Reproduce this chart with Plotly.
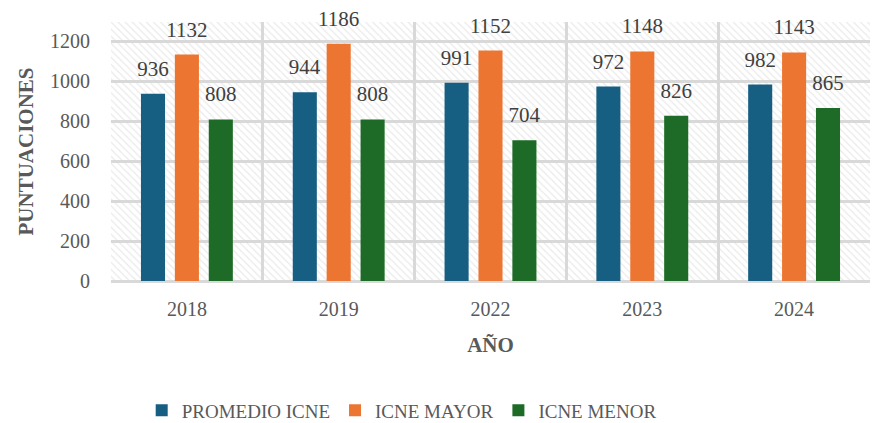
import plotly.graph_objects as go

years = ["2018", "2019", "2022", "2023", "2024"]
promedio = [936, 944, 991, 972, 982]
mayor = [1132, 1186, 1152, 1148, 1143]
menor = [808, 808, 704, 826, 865]
series_names = ["PROMEDIO ICNE", "ICNE MAYOR", "ICNE MENOR"]
colors = ["#175E83", "#ED7532", "#1D6B26"]
y_ticks = [0, 200, 400, 600, 800, 1000, 1200]

FONT = "Liberation Serif, Times New Roman, serif"
fig = go.Figure()

# hatched background for the plot area
fig.add_trace(go.Bar(
    x=[0.5], y=[1295], width=[1], xaxis="x", yaxis="y",
    marker=dict(color="rgba(0,0,0,0)", line=dict(width=0),
                pattern=dict(shape="\\", fgcolor="#d6d6d6", size=5, solidity=0.25,
                             fillmode="overlay")),
    showlegend=False, hoverinfo="skip"))

for name, vals, c in zip(series_names, [promedio, mayor, menor], colors):
    fig.add_trace(go.Bar(
        x=years, y=vals, name=name, xaxis="x2", yaxis="y",
        marker=dict(color=c, line=dict(width=0)),
        text=[f"<span style='font-size:21px'>{v}</span><br> " for v in vals],
        textposition="outside", constraintext="none",
        textfont=dict(family=FONT, size=10, color="#404040"),
        cliponaxis=False))

fig.update_layout(
    width=882, height=423,
    margin=dict(l=111, r=12, t=22, b=142, autoexpand=False),
    paper_bgcolor="white", plot_bgcolor="white",
    barmode="group", bargap=0.33, bargroupgap=0.29,
    font=dict(family=FONT, color="#595959"),
    xaxis=dict(range=[0, 1], tickvals=[0, 0.2, 0.4, 0.6, 0.8, 1.0], showticklabels=False,
               showgrid=True, gridcolor="#d9d9d9", gridwidth=2.5, zeroline=False, showline=False,
               automargin=False),
    xaxis2=dict(overlaying="x", side="bottom", type="category", range=[-0.5, 4.5],
                showgrid=False, zeroline=False, showline=False, automargin=False,
                ticks="outside", ticklen=10, tickcolor="rgba(0,0,0,0)",
                tickfont=dict(family=FONT, size=20, color="#595959"),
                title=dict(text="<b>AÑO</b>", font=dict(family=FONT, size=21, color="#595959"),
                           standoff=18)),
    yaxis=dict(range=[0, 1295], tickvals=y_ticks, showgrid=True, gridcolor="#d9d9d9", gridwidth=2.5,
               zeroline=True, zerolinecolor="#d9d9d9", zerolinewidth=2.5, automargin=False,
               ticks="outside", ticklen=16, tickcolor="rgba(0,0,0,0)",
               tickfont=dict(family=FONT, size=20, color="#595959"),
               title=dict(text="<b>PUNTUACIONES</b>", font=dict(family=FONT, size=21, color="#595959"),
                          standoff=10)),
    legend=dict(orientation="h", x=0.383, xanchor="center", y=-0.5, yanchor="middle",
                font=dict(family=FONT, size=19, color="#595959"), itemwidth=30),
)

fig.write_html("out.html", post_script="document.body.style.margin='0';",
               config={"displayModeBar": False})
